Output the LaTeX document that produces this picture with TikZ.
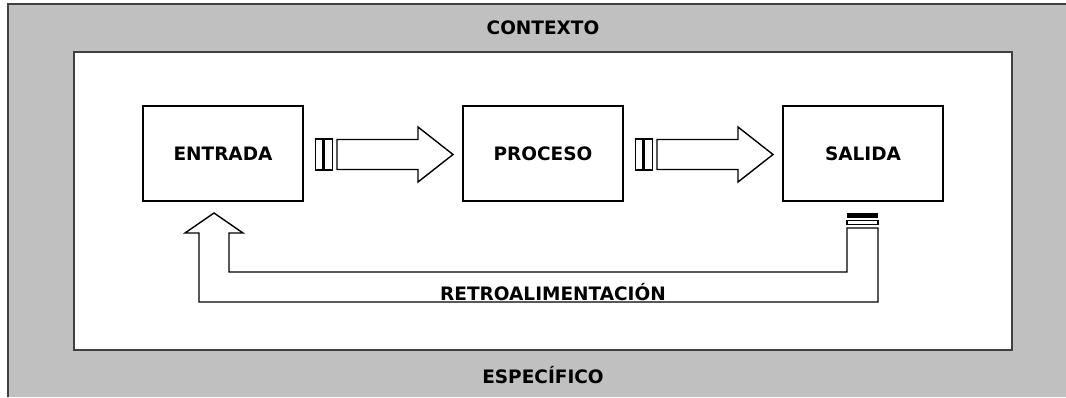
\documentclass[tikz,border=0pt]{standalone}
\usepackage{fontspec}
\setmainfont{DejaVu Sans}
\usepackage{xcolor}
\usetikzlibrary{
    positioning,
    calc
}
\definecolor{marco}{HTML}{C0C0C0}
\definecolor{borde}{HTML}{404040}
\newcommand{\letrero}{\fontsize{18.5}{22}\selectfont\bfseries}
\tikzset{
    caja/.style = {rectangle, draw=black, line width=2pt,
      fill=white, minimum width=160pt, minimum height=95pt,
      inner sep=0pt, outer sep=0pt, font=\letrero}
  }
\tikzset{
    flecha/.style = {draw=black, line width=1.4pt, fill=white,
      line join=miter}
  }
\tikzset{
    texto/.style = {inner sep=0pt, font=\letrero}
  }

\begin{document}
\begin{tikzpicture}[x=1pt,y=1pt]

\useasboundingbox (0,0) rectangle (1066,-397);

\fill[marco] (8,-4) rectangle (1066,-397);
\draw[borde,line width=2pt] (8,-397) -- (8,-4) -- (1066,-4);

\node[rectangle, fill=white, draw=borde, line width=2pt,
      minimum width=938pt, minimum height=298pt, inner sep=0pt]
  at (543,-201) (area) {};

\node[texto, anchor=base] at ($(area.north)+(0,17)$) (contexto)
  {CONTEXTO};
\node[texto, anchor=base] at ($(area.south)+(0,-32)$) (especifico)
  {ESPECÍFICO};


\node[caja] at (223,-153.5) (entrada) {ENTRADA};

\node[caja, right=160pt of entrada] (proceso) {PROCESO};

\node[caja, right=160pt of proceso] (salida) {SALIDA};


\foreach \a/\b in {entrada/proceso, proceso/salida}{
  \draw[flecha] ($(\a.east)+(12.5,14.5)$) rectangle ($(\a.east)+(19.5,-16.5)$);
  \draw[flecha] ($(\a.east)+(21,14.5)$) rectangle ($(\a.east)+(29.5,-16.5)$);
  \draw[flecha] ($(\a.east)+(34,14)$) -- ($(\b.west)+(-45,14)$)
    -- ($(\b.west)+(-45,26.5)$) -- ($(\b.west)+(-10,-1)$)
    -- ($(\b.west)+(-45,-28.5)$) -- ($(\b.west)+(-45,-16)$)
    -- ($(\a.east)+(34,-16)$) -- cycle;
}


\fill[black] ($(salida.south)+(-16,-12)$) rectangle ($(salida.south)+(15,-16.5)$);
\draw[flecha] ($(salida.south)+(-16,-19.5)$) rectangle ($(salida.south)+(15,-23.5)$);

\draw[flecha] ($(salida.south)+(15,-27)$) -- ($(salida.south)+(15,-101)$)
  -| ($(entrada.south)+(-24,-32)$) -- ++(-14,0)
  -- ($(entrada.south)+(-9,-12)$) -- ($(entrada.south)+(20,-32)$)
  -- ++(-14,0) |- ($(salida.south)+(-16,-71)$)
  -- ($(salida.south)+(-16,-27)$) -- cycle;

\node[texto, anchor=base] at (553,-300) (retro) {RETROALIMENTACIÓN};

\end{tikzpicture}
\end{document}
